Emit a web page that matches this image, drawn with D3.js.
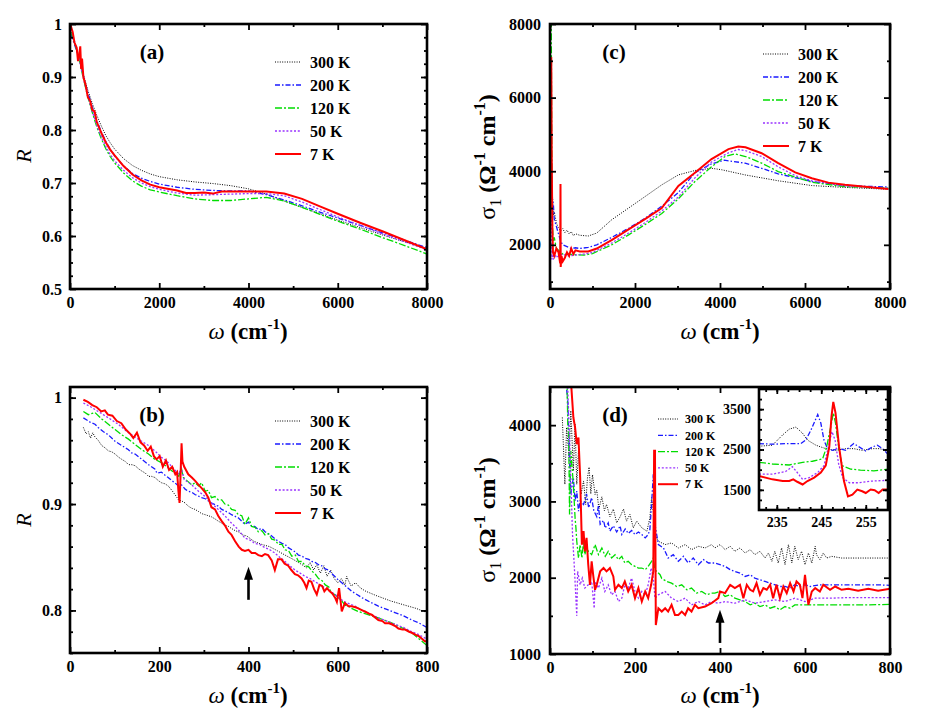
<!DOCTYPE html>
<meta charset="utf-8">
<style>
body { margin: 0; background: #fff; }
svg text { font-family: "Liberation Serif", "Times New Roman", Times, serif !important; }
</style>
<body>
<script src="https://d3js.org/d3.v7.min.js"></script>
<script>
// ---- data ----
var temps = ["300 K", "200 K", "120 K", "50 K", "7 K"];

// (a) reflectance, 0-8000 cm-1
var a300 = [[20,0.985],[100,0.965],[200,0.937],[300,0.905],[400,0.875],[500,0.850],[600,0.828],[700,0.808],[800,0.790],[900,0.776],[1000,0.764],[1200,0.746],[1400,0.733],[1600,0.724],[1800,0.717],[2000,0.712],[2400,0.706],[2800,0.702],[3200,0.699],[3600,0.695],[4000,0.689],[4400,0.679],[4800,0.666],[5200,0.654],[5600,0.642],[6000,0.630],[6500,0.616],[7000,0.602],[7500,0.589],[8000,0.577]];
var a200 = [[20,0.980],[100,0.962],[200,0.935],[300,0.902],[400,0.870],[500,0.843],[600,0.818],[700,0.797],[800,0.779],[900,0.764],[1000,0.751],[1200,0.732],[1400,0.718],[1600,0.709],[1800,0.703],[2000,0.698],[2400,0.692],[2800,0.688],[3200,0.686],[3600,0.685],[4000,0.685],[4400,0.678],[4800,0.668],[5200,0.657],[5600,0.645],[6000,0.634],[6500,0.620],[7000,0.606],[7500,0.592],[8000,0.578]];
var a120 = [[20,0.985],[100,0.966],[200,0.935],[300,0.897],[400,0.862],[500,0.833],[600,0.806],[700,0.784],[800,0.765],[900,0.750],[1000,0.738],[1200,0.719],[1400,0.704],[1600,0.694],[1800,0.687],[2000,0.683],[2400,0.676],[2800,0.670],[3200,0.667],[3600,0.667],[4000,0.670],[4400,0.673],[4800,0.666],[5200,0.654],[5600,0.641],[6000,0.628],[6500,0.613],[7000,0.597],[7500,0.582],[8000,0.566]];
var a50 = [[20,0.990],[100,0.968],[200,0.935],[300,0.898],[400,0.864],[500,0.835],[600,0.809],[700,0.787],[800,0.769],[900,0.754],[1000,0.742],[1200,0.724],[1400,0.710],[1600,0.700],[1800,0.693],[2000,0.688],[2400,0.681],[2800,0.677],[3200,0.678],[3600,0.679],[4000,0.680],[4400,0.680],[4800,0.676],[5200,0.664],[5600,0.650],[6000,0.636],[6500,0.620],[7000,0.604],[7500,0.589],[8000,0.574]];
var a7 = [[5,1.0],[60,0.985],[100,0.965],[150,0.955],[180,0.930],[210,0.945],[230,0.958],[250,0.915],[270,0.935],[300,0.900],[350,0.885],[400,0.862],[450,0.855],[500,0.838],[550,0.835],[600,0.815],[700,0.795],[800,0.777],[900,0.763],[1000,0.752],[1200,0.732],[1400,0.716],[1600,0.705],[1800,0.697],[2000,0.692],[2400,0.686],[2600,0.681],[2800,0.681],[3000,0.682],[3200,0.680],[3400,0.684],[3600,0.684],[4000,0.684],[4400,0.684],[4800,0.680],[5200,0.670],[5600,0.656],[6000,0.642],[6500,0.625],[7000,0.609],[7500,0.592],[8000,0.575]];

// (c) conductivity, 0-8000 cm-1
var c300 = [[30,3700],[45,3200],[60,3300],[80,2800],[100,2900],[150,2600],[200,2450],[250,2380],[300,2440],[350,2330],[400,2400],[450,2300],[500,2360],[550,2250],[600,2300],[700,2260],[900,2240],[1100,2320],[1450,2680],[1850,3000],[2235,3310],[2630,3630],[3020,3900],[3410,4020],[3800,4080],[4040,4040],[4590,3900],[5370,3740],[6160,3610],[6940,3560],[7960,3510]];
var c200 = [[30,4500],[50,3300],[80,3100],[100,2700],[150,2500],[200,2300],[250,2100],[300,2000],[400,1950],[500,1900],[600,1920],[700,1900],[900,1930],[1100,2000],[1450,2200],[1850,2450],[2235,2720],[2630,3050],[3020,3420],[3410,3960],[3800,4200],[4100,4300],[4590,4220],[4980,4080],[5370,3930],[6160,3720],[6940,3610],[7960,3570]];
var c120 = [[30,8100],[40,5000],[50,3000],[60,2500],[75,2100],[100,2200],[150,1900],[200,1850],[300,1750],[400,1750],[600,1730],[800,1720],[1000,1760],[1450,2000],[1850,2270],[2235,2550],[2630,2850],[3020,3250],[3410,3720],[3800,4120],[4120,4400],[4350,4470],[4600,4400],[4980,4220],[5370,3990],[6160,3700],[6940,3580],[7960,3540]];
var c50 = [[30,3500],[45,1600],[60,2000],[80,1600],[100,1800],[150,1650],[200,1700],[300,1750],[400,1700],[600,1720],[800,1750],[1000,1790],[1450,2050],[1850,2320],[2235,2600],[2630,2920],[3020,3300],[3410,3820],[3800,4250],[4200,4500],[4430,4590],[4600,4560],[4980,4400],[5370,4120],[5770,3880],[6160,3740],[6940,3600],[7960,3530]];
var c7 = [[30,7100],[40,4500],[55,2500],[70,1800],[100,1700],[150,1900],[200,1800],[240,1500],[247,3650],[252,1400],[270,1700],[300,1550],[350,1650],[400,1800],[450,1700],[500,1900],[550,1750],[600,1850],[700,1820],[900,1820],[1100,1900],[1450,2130],[1850,2420],[2235,2700],[2630,3000],[3020,3600],[3410,3960],[3800,4330],[4200,4600],[4430,4670],[4600,4650],[4980,4490],[5370,4220],[5770,3970],[6160,3810],[6550,3690],[6940,3630],[7960,3520]];

// (b) reflectance, 0-800 cm-1
var b300 = [[30,0.972],[36,0.966],[41,0.968],[46,0.962],[51,0.967],[56,0.963],[63,0.960],[71,0.955],[78,0.953],[86,0.950],[94,0.949],[101,0.947],[109,0.944],[116,0.942],[124,0.940],[131,0.937],[139,0.937],[146,0.936],[154,0.933],[161,0.931],[169,0.929],[176,0.926],[183,0.926],[190,0.925],[198,0.922],[205,0.920],[213,0.919],[220,0.917],[228,0.913],[235,0.909],[240,0.906],[243,0.904],[250,0.903],[258,0.901],[265,0.898],[273,0.896],[280,0.895],[288,0.893],[295,0.891],[303,0.890],[310,0.889],[317,0.888],[325,0.886],[332,0.884],[340,0.882],[347,0.880],[355,0.879],[362,0.877],[370,0.875],[377,0.874],[387,0.871],[396,0.870],[412,0.865],[430,0.862],[447,0.860],[465,0.856],[482,0.852],[500,0.848],[512,0.845],[520,0.843],[530,0.840],[538,0.845],[546,0.838],[553,0.843],[561,0.835],[569,0.842],[576,0.832],[584,0.838],[592,0.830],[600,0.826],[608,0.830],[616,0.824],[620,0.832],[624,0.828],[630,0.823],[640,0.826],[651,0.821],[663,0.818],[686,0.814],[718,0.809],[750,0.805],[775,0.802],[800,0.798]];
var b200 = [[30,0.981],[45,0.977],[56,0.975],[63,0.972],[75,0.968],[86,0.965],[101,0.959],[116,0.955],[131,0.951],[138,0.948],[146,0.947],[161,0.942],[176,0.937],[190,0.933],[195,0.929],[205,0.930],[213,0.927],[220,0.925],[228,0.922],[235,0.920],[243,0.917],[250,0.918],[258,0.914],[265,0.912],[273,0.911],[280,0.909],[295,0.906],[303,0.905],[317,0.901],[332,0.898],[340,0.895],[355,0.892],[362,0.890],[377,0.887],[392,0.881],[400,0.883],[407,0.879],[414,0.879],[422,0.876],[430,0.877],[437,0.874],[445,0.872],[452,0.870],[460,0.867],[467,0.865],[475,0.863],[482,0.862],[489,0.859],[497,0.857],[505,0.855],[512,0.852],[520,0.851],[527,0.849],[535,0.848],[542,0.846],[550,0.845],[557,0.843],[564,0.842],[572,0.839],[579,0.838],[586,0.835],[598,0.830],[609,0.826],[620,0.822],[631,0.818],[643,0.815],[654,0.812],[672,0.808],[691,0.804],[710,0.801],[728,0.798],[747,0.795],[766,0.791],[783,0.788],[800,0.784]];
var b120 = [[30,0.987],[41,0.984],[56,0.986],[71,0.980],[86,0.975],[101,0.970],[116,0.965],[131,0.961],[146,0.956],[161,0.951],[176,0.947],[190,0.942],[205,0.939],[220,0.934],[235,0.929],[244,0.926],[249,0.935],[254,0.925],[262,0.922],[273,0.918],[280,0.920],[288,0.917],[295,0.920],[303,0.912],[310,0.913],[317,0.906],[325,0.907],[332,0.904],[340,0.904],[347,0.900],[355,0.899],[362,0.895],[370,0.894],[377,0.890],[385,0.889],[392,0.881],[400,0.887],[407,0.879],[415,0.878],[422,0.874],[430,0.875],[437,0.871],[445,0.872],[452,0.867],[460,0.866],[467,0.862],[475,0.862],[482,0.857],[490,0.856],[497,0.851],[505,0.852],[512,0.846],[520,0.846],[527,0.842],[535,0.841],[542,0.837],[550,0.834],[557,0.830],[565,0.828],[572,0.824],[580,0.822],[586,0.816],[594,0.815],[601,0.812],[609,0.809],[616,0.805],[624,0.804],[631,0.802],[646,0.799],[661,0.797],[691,0.793],[728,0.787],[766,0.779],[800,0.767]];
var b50 = [[30,0.995],[48,0.991],[63,0.987],[86,0.981],[108,0.975],[131,0.967],[153,0.961],[176,0.955],[190,0.950],[205,0.944],[220,0.939],[235,0.932],[244,0.928],[249,0.934],[256,0.923],[273,0.918],[288,0.912],[303,0.907],[317,0.901],[332,0.895],[347,0.889],[362,0.882],[377,0.876],[392,0.868],[404,0.866],[414,0.863],[425,0.862],[437,0.859],[448,0.857],[459,0.854],[470,0.850],[482,0.846],[493,0.842],[504,0.838],[516,0.835],[527,0.832],[538,0.830],[549,0.827],[561,0.824],[572,0.821],[583,0.818],[594,0.815],[605,0.811],[616,0.808],[628,0.806],[639,0.804],[650,0.801],[661,0.799],[676,0.796],[691,0.793],[710,0.790],[728,0.787],[747,0.784],[766,0.780],[783,0.777],[800,0.773]];
var b7 = [[30,0.998],[40,0.996],[50,0.993],[60,0.991],[70,0.987],[78,0.988],[85,0.984],[95,0.983],[105,0.978],[115,0.976],[125,0.970],[135,0.966],[142,0.962],[150,0.967],[158,0.958],[166,0.955],[174,0.950],[181,0.954],[188,0.945],[194,0.942],[201,0.945],[208,0.935],[215,0.941],[222,0.932],[229,0.935],[236,0.928],[240,0.930],[243,0.912],[245.5,0.901],[248,0.930],[250,0.957],[252,0.940],[256,0.935],[265,0.928],[273,0.925],[280,0.922],[288,0.918],[295,0.915],[303,0.911],[310,0.906],[317,0.897],[325,0.895],[332,0.889],[340,0.884],[347,0.880],[355,0.874],[362,0.871],[370,0.865],[378,0.860],[385,0.857],[392,0.856],[400,0.857],[407,0.854],[415,0.854],[422,0.852],[430,0.851],[437,0.853],[444,0.852],[452,0.847],[459,0.838],[466,0.848],[474,0.848],[481,0.844],[489,0.842],[496,0.838],[504,0.834],[511,0.833],[519,0.830],[525,0.826],[530,0.821],[535,0.828],[541,0.827],[547,0.820],[553,0.815],[559,0.824],[565,0.823],[570,0.818],[576,0.821],[582,0.818],[588,0.816],[594,0.812],[598,0.808],[603,0.821],[609,0.799],[616,0.807],[624,0.804],[631,0.804],[640,0.803],[646,0.802],[655,0.800],[661,0.799],[670,0.797],[676,0.796],[685,0.793],[691,0.791],[700,0.790],[706,0.788],[715,0.788],[721,0.787],[730,0.785],[736,0.783],[745,0.782],[751,0.782],[760,0.780],[766,0.779],[775,0.777],[781,0.776],[790,0.773],[795,0.771],[800,0.771]];

// (d) conductivity, 0-800 cm-1
var d300 = [[29,4101],[35,3224],[39,3970],[45,3575],[49,4189],[55,3400],[59,4013],[63,3224],[67,3663],[73,3092],[79,3268],[84,2960],[88,3300],[92,3450],[96,3100],[100,3350],[106,3092],[110,3150],[115,2900],[122,3060],[128,2880],[133,2960],[141,2800],[149,2900],[157,2720],[165,2800],[173,2900],[180,2742],[188,2829],[196,2654],[204,2742],[216,2654],[228,2610],[235,2785],[239,3049],[243,2873],[247,2566],[255,2478],[271,2434],[286,2456],[302,2390],[318,2434],[333,2368],[349,2412],[365,2390],[380,2434],[388,2390],[400,2434],[412,2368],[424,2412],[435,2346],[447,2390],[459,2324],[471,2368],[482,2302],[494,2346],[506,2258],[514,2324],[522,2215],[529,2346],[537,2193],[545,2390],[553,2171],[561,2434],[569,2193],[576,2412],[584,2237],[592,2346],[600,2171],[608,2324],[616,2193],[624,2412],[627,2302],[635,2237],[643,2324],[651,2258],[663,2280],[686,2258],[718,2258],[765,2258],[800,2258]];
var d200 = [[37,4600],[42,4300],[45,3663],[49,3092],[55,3312],[59,3005],[63,3136],[67,2873],[71,3005],[79,2960],[86,3100],[91,2917],[98,3050],[103,2880],[110,2800],[114,2950],[118,2700],[126,2750],[130,2650],[137,2720],[141,2610],[149,2680],[157,2600],[165,2680],[169,2566],[177,2640],[184,2580],[192,2620],[200,2566],[208,2600],[216,2566],[224,2522],[231,2566],[235,2632],[239,2961],[243,3356],[247,2698],[255,2434],[267,2390],[278,2258],[290,2302],[302,2215],[314,2280],[325,2193],[337,2258],[349,2171],[361,2237],[373,2193],[388,2193],[400,2171],[412,2149],[424,2105],[435,2083],[447,2061],[459,2017],[471,2039],[482,1995],[494,1973],[506,1951],[518,1929],[530,1907],[541,1885],[553,1885],[565,1863],[576,1907],[588,1885],[600,1907],[612,1885],[635,1907],[663,1907],[690,1907],[718,1907],[745,1907],[770,1907],[800,1900]];
var d120 = [[40,4600],[42,3970],[44,3883],[46,2829],[49,3663],[55,3224],[59,2785],[61,2654],[63,2478],[67,2258],[71,2434],[75,2258],[79,2478],[82,2302],[86,2390],[90,2346],[98,2302],[106,2434],[114,2302],[122,2390],[130,2280],[137,2346],[145,2258],[153,2302],[161,2237],[169,2280],[176,2193],[184,2215],[192,2171],[200,2149],[208,2127],[216,2127],[224,2105],[231,2149],[239,2215],[243,2258],[247,2105],[251,2083],[259,2039],[263,1990],[275,1951],[286,1929],[298,1885],[310,1907],[322,1842],[333,1864],[345,1798],[357,1820],[369,1776],[380,1798],[388,1798],[400,1820],[412,1754],[424,1776],[435,1732],[447,1710],[459,1688],[471,1644],[482,1666],[494,1622],[506,1644],[518,1600],[529,1622],[541,1578],[553,1622],[565,1600],[576,1644],[600,1644],[624,1644],[663,1644],[706,1644],[745,1644],[800,1650]];
var d50 = [[41,4600],[47,3663],[53,2566],[57,2171],[63,1500],[65,2083],[71,1907],[76,1995],[82,1864],[90,1907],[98,1951],[104,1600],[106,1951],[114,1864],[122,1995],[129,1820],[137,1907],[145,1776],[153,1820],[161,1688],[169,1732],[176,1907],[184,1864],[192,1995],[200,1820],[208,1732],[216,1820],[224,1776],[231,1907],[238,2127],[243,1995],[247,1732],[255,1776],[271,1820],[286,1732],[302,1688],[318,1732],[333,1644],[349,1688],[365,1644],[380,1688],[396,1666],[412,1688],[435,1666],[459,1710],[482,1666],[506,1688],[529,1710],[553,1688],[576,1732],[600,1688],[624,1732],[663,1732],[702,1740],[741,1740],[800,1740]];
var d7 = [[49,4600],[55,4100],[59,3970],[63,3751],[67,3839],[71,3312],[75,2434],[79,2610],[82,2346],[86,2522],[90,2171],[94,1907],[98,2215],[102,2017],[106,1842],[110,1907],[118,2083],[126,2127],[133,2083],[141,2127],[149,2017],[153,1842],[161,1907],[169,1864],[176,1951],[184,1820],[192,1907],[200,1732],[208,1864],[216,1688],[224,1820],[231,1732],[238,1907],[243,2083],[245,3663],[247,3663],[249,1380],[255,1600],[263,1556],[271,1600],[278,1556],[286,1644],[294,1512],[302,1512],[310,1556],[318,1512],[325,1600],[333,1556],[341,1644],[349,1600],[365,1622],[380,1666],[396,1732],[400,1820],[412,1798],[424,1907],[435,1864],[447,1907],[455,1732],[463,1907],[471,1842],[478,1820],[486,1929],[494,1776],[502,1864],[510,1842],[518,1907],[525,1732],[533,1907],[541,1732],[549,1885],[557,1798],[565,1929],[573,1820],[580,1951],[588,1907],[594,1732],[600,2039],[608,1644],[616,1820],[624,1864],[635,1820],[643,1907],[659,1842],[671,1885],[686,1842],[702,1855],[725,1830],[749,1855],[772,1830],[800,1855]];

// inset of (d), 231-260 cm-1
var i300 = [[231,2581],[234,2606],[236.3,2860],[237.8,3004],[239.3,3055],[240.8,2902],[241.9,2733],[243.8,2606],[246,2521],[248.2,2479],[250.5,2521],[252.3,2521],[254.2,2479],[256.5,2521],[258,2521],[260,2479]];
var i200 = [[231,2648],[234,2631],[237.8,2648],[240.4,2648],[241.5,2733],[242.7,2986],[244.2,3367],[244.9,3156],[245.6,2733],[246.4,2521],[247.5,2479],[249,2521],[250.5,2479],[252.3,2648],[253.5,2564],[255,2462],[256.5,2564],[257.6,2606],[258.8,2521],[260,2378]];
var i120 = [[231,2183],[234,2141],[237.8,2116],[240.8,2183],[243,2209],[245.3,2268],[246.2,2564],[247.3,3156],[247.7,3409],[248.2,3156],[249,2479],[249.7,2099],[251.6,2014],[253.8,1990],[256.8,1972],[260,2014]];
var i50 = [[231,1887],[234,1887],[237,1955],[238.5,2073],[239.6,1930],[240.8,1760],[242.3,1803],[244.2,1930],[245.6,2099],[246.6,2564],[247.4,2944],[248.1,2733],[248.9,2141],[249.8,1803],[251.3,1676],[253.5,1676],[256.5,1718],[260,1735]];
var i7 = [[231,1845],[234,1760],[236.3,1718],[237.8,1718],[238.7,1760],[239.6,1700],[240.8,1633],[241.9,1718],[243.4,1803],[244.9,1930],[246,2099],[246.8,2564],[247.3,3325],[247.7,3680],[248.2,3409],[249,2564],[250.1,1718],[251,1338],[252,1380],[253.1,1507],[254.2,1465],[255,1422],[256.1,1507],[257,1490],[257.9,1422],[258.8,1507],[260,1507]];

// ---- styles ----
var FONT = "Liberation Serif, Times New Roman, Times, serif";
var colors = ["#000000", "#1a1aff", "#00dd00", "#9933ff", "#ff0000"];
var dashes = ["1,1.4", "5,2,1.5,2", "7,2,2,2", "2,1.8", null];
var widths = [1, 1.3, 1.3, 1.3, 2];

var svg = d3.select("body").append("svg")
    .attr("width", 926)
    .attr("height", 727)
    .style("background", "#fff");

function drawAxis(gen, pos, vals, size, fmt, pad, fs) {
  gen.tickValues(vals).tickSize(size).tickSizeOuter(0);
  if (fmt) gen.tickFormat(fmt).tickPadding(pad);
  else gen.tickFormat("");
  var s = svg.append("g").attr("transform", pos).call(gen);
  s.select(".domain").remove();
  s.selectAll("line").attr("stroke-width", 1.8);
  s.attr("font-family", FONT).attr("font-size", fs || 16).attr("font-weight", "bold");
  return s;
}

function drawPanel(p) {
  var x = d3.scaleLinear().domain(p.xd).range([p.l, p.r]);
  var y = d3.scaleLinear().domain(p.yd).range([p.b, p.t]);

  if (p.fill) {
    svg.append("rect").attr("x", p.l).attr("y", p.t)
      .attr("width", p.r - p.l).attr("height", p.b - p.t).attr("fill", "#fff");
  }

  svg.append("clipPath").attr("id", "clip" + p.id)
    .append("rect").attr("x", p.l).attr("y", p.t)
    .attr("width", p.r - p.l).attr("height", p.b - p.t);

  var line = d3.line()
      .x(function(d) { return x(d[0]); })
      .y(function(d) { return y(d[1]); });

  p.series.forEach(function(s, i) {
    svg.append("path")
      .datum(s)
      .attr("clip-path", "url(#clip" + p.id + ")")
      .attr("fill", "none")
      .attr("stroke", colors[i])
      .attr("stroke-width", widths[i])
      .attr("stroke-dasharray", dashes[i])
      .attr("d", line);
  });

  var big = p.big || 6, small = p.small || 3;
  // minor ticks
  drawAxis(d3.axisBottom(x), "translate(0," + p.b + ")", p.xMinor, -small);
  drawAxis(d3.axisTop(x), "translate(0," + p.t + ")", p.xMinor, -small);
  drawAxis(d3.axisLeft(y), "translate(" + p.l + ",0)", p.yMinor, -small);
  drawAxis(d3.axisRight(y), "translate(" + p.r + ",0)", p.yMinor, -small);
  // major ticks
  drawAxis(d3.axisTop(x), "translate(0," + p.t + ")", p.xMajor, -big);
  drawAxis(d3.axisRight(y), "translate(" + p.r + ",0)", p.yMajor, -big);
  drawAxis(d3.axisBottom(x), "translate(0," + p.b + ")", p.xMajor, -big, p.xFmt, p.xPad || 8, p.fs);
  drawAxis(d3.axisLeft(y), "translate(" + p.l + ",0)", p.yMajor, -big, p.yFmt, p.yPad || 8, p.fs);

  svg.append("rect")
    .attr("x", p.l).attr("y", p.t)
    .attr("width", p.r - p.l).attr("height", p.b - p.t)
    .attr("fill", "none").attr("stroke", "#000").attr("stroke-width", 2.6);

  return {x: x, y: y};
}

function legend(lx, len, tx, y0, dy, fs) {
  temps.forEach(function(t, i) {
    var yy = y0 + i * dy;
    svg.append("line")
      .attr("x1", lx).attr("x2", lx + len).attr("y1", yy).attr("y2", yy)
      .attr("stroke", colors[i]).attr("stroke-width", widths[i])
      .attr("stroke-dasharray", dashes[i]);
    svg.append("text")
      .attr("x", tx).attr("y", yy + fs * 0.35)
      .attr("font-family", FONT).attr("font-size", fs).attr("font-weight", "bold")
      .text(t);
  });
}

function panelLabel(cx, y, s) {
  svg.append("text").attr("x", cx).attr("y", y).attr("text-anchor", "middle")
    .attr("font-family", FONT).attr("font-size", 21).attr("font-weight", "bold").text(s);
}

function omegaTitle(cx, y) {
  var t = svg.append("text").attr("x", cx).attr("y", y).attr("text-anchor", "middle")
    .attr("font-family", FONT).attr("font-size", 23);
  t.append("tspan").attr("font-style", "italic").text("ω");
  t.append("tspan").attr("font-weight", "bold").text(" (cm");
  t.append("tspan").attr("font-weight", "bold").attr("font-size", 15).attr("dy", -10).text("-1");
  t.append("tspan").attr("font-weight", "bold").attr("dy", 10).text(")");
}

function rTitle(x, cy) {
  svg.append("text").attr("transform", "translate(" + x + "," + cy + ") rotate(-90)")
    .attr("text-anchor", "middle").attr("font-family", FONT).attr("font-size", 22)
    .attr("font-style", "italic").text("R");
}

function sigmaTitle(x, cy) {
  var t = svg.append("text").attr("transform", "translate(" + x + "," + cy + ") rotate(-90)")
    .attr("text-anchor", "middle").attr("font-family", FONT).attr("font-size", 24);
  t.append("tspan").text("σ");
  t.append("tspan").attr("font-size", 16).attr("dy", 6).text("1");
  t.append("tspan").attr("font-weight", "bold").attr("dy", -6).text(" (Ω");
  t.append("tspan").attr("font-weight", "bold").attr("font-size", 16).attr("dy", -10).text("-1");
  t.append("tspan").attr("font-weight", "bold").attr("dy", 10).text(" cm");
  t.append("tspan").attr("font-weight", "bold").attr("font-size", 16).attr("dy", -10).text("-1");
  t.append("tspan").attr("font-weight", "bold").attr("dy", 10).text(")");
}

function arrow(sc, xv, yLow, yTip) {
  var xp = sc.x(xv), y1 = sc.y(yLow), y2 = sc.y(yTip);
  svg.append("line").attr("x1", xp).attr("x2", xp).attr("y1", y1).attr("y2", y2 + 8)
    .attr("stroke", "#000").attr("stroke-width", 2.6);
  svg.append("path")
    .attr("d", "M" + xp + "," + y2 + "L" + (xp - 4.5) + "," + (y2 + 13) + "L" + (xp + 4.5) + "," + (y2 + 13) + "Z")
    .attr("fill", "#000");
}

var fmtR = function(d) { return d === 1 ? "1" : d3.format(".1f")(d); };
var fmtI = d3.format("d");

// (a)
drawPanel({
  id: "a", l: 70, r: 427, t: 24, b: 289, xd: [0, 8000], yd: [0.5, 1],
  xMajor: [0, 2000, 4000, 6000, 8000], xMinor: [1000, 3000, 5000, 7000],
  yMajor: [0.5, 0.6, 0.7, 0.8, 0.9, 1], yMinor: d3.range(0.525, 1, 0.025),
  xFmt: fmtI, yFmt: fmtR, series: [a300, a200, a120, a50, a7]
});
legend(275, 26, 310, 62, 23, 16);
panelLabel(152, 59, "(a)");
omegaTitle(248, 339);
rTitle(31, 156);

// (c)
drawPanel({
  id: "c", l: 550, r: 890, t: 24, b: 289, xd: [0, 8000], yd: [800, 8000],
  xMajor: [0, 2000, 4000, 6000, 8000], xMinor: [1000, 3000, 5000, 7000],
  yMajor: [2000, 4000, 6000, 8000], yMinor: [1000, 3000, 5000, 7000],
  xFmt: fmtI, yFmt: fmtI, yPad: 9, series: [c300, c200, c120, c50, c7]
});
legend(763, 26, 798, 54, 23, 16);
panelLabel(614, 59, "(c)");
omegaTitle(720, 339);
sigmaTitle(495, 157);

// (b)
var pb = drawPanel({
  id: "b", l: 70, r: 427, t: 387, b: 653, xd: [0, 800], yd: [0.76, 1.01],
  xMajor: [0, 200, 400, 600, 800], xMinor: [100, 300, 500, 700],
  yMajor: [0.8, 0.9, 1], yMinor: d3.range(0.76, 1.005, 0.02),
  xFmt: fmtI, yFmt: fmtR, series: [b300, b200, b120, b50, b7]
});
legend(275, 26, 310, 421, 23, 16);
panelLabel(152, 422, "(b)");
omegaTitle(248, 703);
rTitle(31, 520);
arrow(pb, 400, 0.810, 0.841);

// (d)
var pd = drawPanel({
  id: "d", l: 550, r: 890, t: 387, b: 654, xd: [0, 800], yd: [1000, 4500],
  xMajor: [0, 200, 400, 600, 800], xMinor: [100, 300, 500, 700],
  yMajor: [1000, 2000, 3000, 4000], yMinor: [1500, 2500, 3500],
  xFmt: fmtI, yFmt: fmtI, yPad: 9, series: [d300, d200, d120, d50, d7]
});
legend(658, 20, 685, 419, 16.3, 12);
panelLabel(615, 422, "(d)");
omegaTitle(720, 703);
sigmaTitle(495, 520);
arrow(pd, 400, 1145, 1579);

// inset
drawPanel({
  id: "i", l: 759, r: 888, t: 389, b: 510, xd: [231, 260], yd: [1000, 4000], fill: true,
  big: 5, small: 3, fs: 14,
  xMajor: [235, 245, 255], xMinor: d3.range(232.5, 260, 2.5),
  yMajor: [1500, 2500, 3500], yMinor: d3.range(1250, 4000, 250),
  xFmt: fmtI, yFmt: fmtI, xPad: 7, yPad: 8,
  series: [i300, i200, i120, i50, i7]
});
</script>
</body>
